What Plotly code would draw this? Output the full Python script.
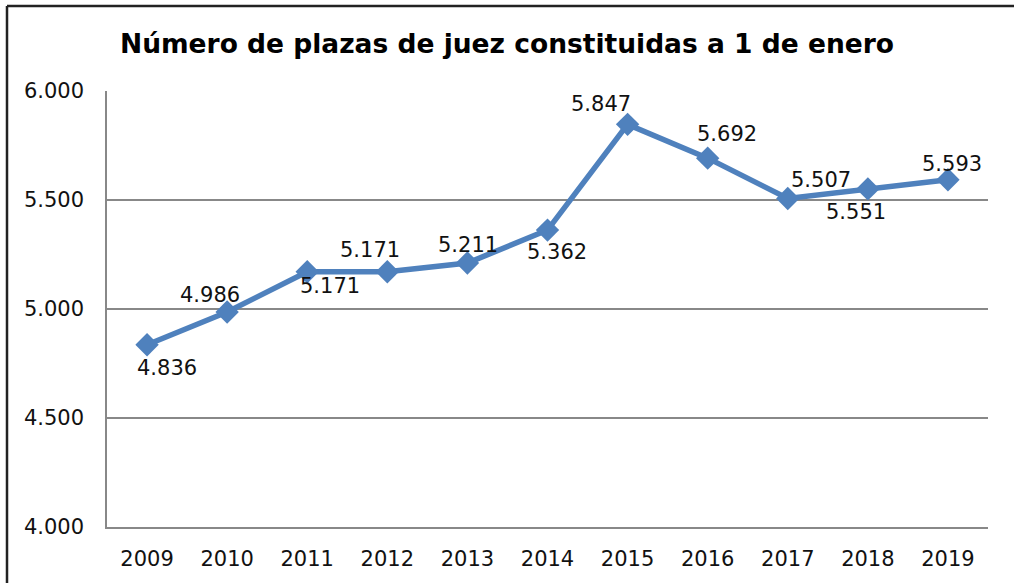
import plotly.graph_objects as go

years = ["2009", "2010", "2011", "2012", "2013", "2014", "2015", "2016", "2017", "2018", "2019"]
plazas = [4836, 4986, 5171, 5171, 5211, 5362, 5847, 5692, 5507, 5551, 5593]
# label offsets (pixels) relative to each point
label_dx = [20, -17, 23, -17, 1, 9, -27, 19, 33, -12, 4]
label_dy = [-23, 17, -14, 22, 18, -22, 20, 24, 18, -23, 16]

title = "Número de plazas de juez constituidas a 1 de enero"
blue = "#4F81BD"
font = "DejaVu Sans"

def fmt(v):
    return f"{v:,}".replace(",", ".")

fig = go.Figure()
fig.add_trace(go.Scatter(
    x=years, y=plazas, mode="lines+markers",
    line=dict(color=blue, width=5.5),
    marker=dict(symbol="diamond", size=18, color=blue),
    hoverinfo="skip", showlegend=False,
))

for i, (v, dx, dy) in enumerate(zip(plazas, label_dx, label_dy)):
    fig.add_annotation(x=i, y=v, xref="x", yref="y", text=fmt(v), showarrow=False,
                       xshift=dx, yshift=dy, font=dict(family=font, size=21, color="#111"))

L, R, T, B = 107, 26, 91, 56
W, H = 1014, 583
pw, ph = W - L - R, H - T - B
def px(xp):
    return (xp - L) / pw
def py(yp):
    return (H - B - yp) / ph

frame = dict(color="#222", width=2.5)
fig.add_shape(type="line", xref="paper", yref="paper",
              x0=px(7), x1=px(1014), y0=py(6), y1=py(6), line=frame, layer="below")
fig.add_shape(type="line", xref="paper", yref="paper",
              x0=px(7), x1=px(7), y0=py(6), y1=py(583), line=frame, layer="below")

fig.update_layout(
    width=W, height=H,
    margin=dict(l=L, r=R, t=T, b=B),
    paper_bgcolor="white", plot_bgcolor="white",
    separators=",.",
    title=dict(text="<b>" + title + "</b>", x=0.5, xanchor="center", y=1 - 44 / H, yanchor="middle",
               font=dict(family=font, size=26.5, color="#000")),
    font=dict(family=font, size=21, color="#111"),
    xaxis=dict(type="category", range=[-0.5, 10.5], showgrid=False, showline=True,
               linecolor="#888", linewidth=2, ticks="", ticklabelstandoff=12,
               tickfont=dict(family=font, size=21, color="#111")),
    yaxis=dict(range=[4000, 6000], dtick=500, tickformat=",d", showgrid=True,
               gridcolor="#888", gridwidth=1.5, showline=True, linecolor="#888", linewidth=1.5,
               ticks="", ticklabelstandoff=17, zeroline=False,
               tickfont=dict(family=font, size=21, color="#111")),
)

fig.write_html("out.html", config={"displayModeBar": False},
               post_script="document.body.style.margin='0';document.body.style.overflow='hidden';")
